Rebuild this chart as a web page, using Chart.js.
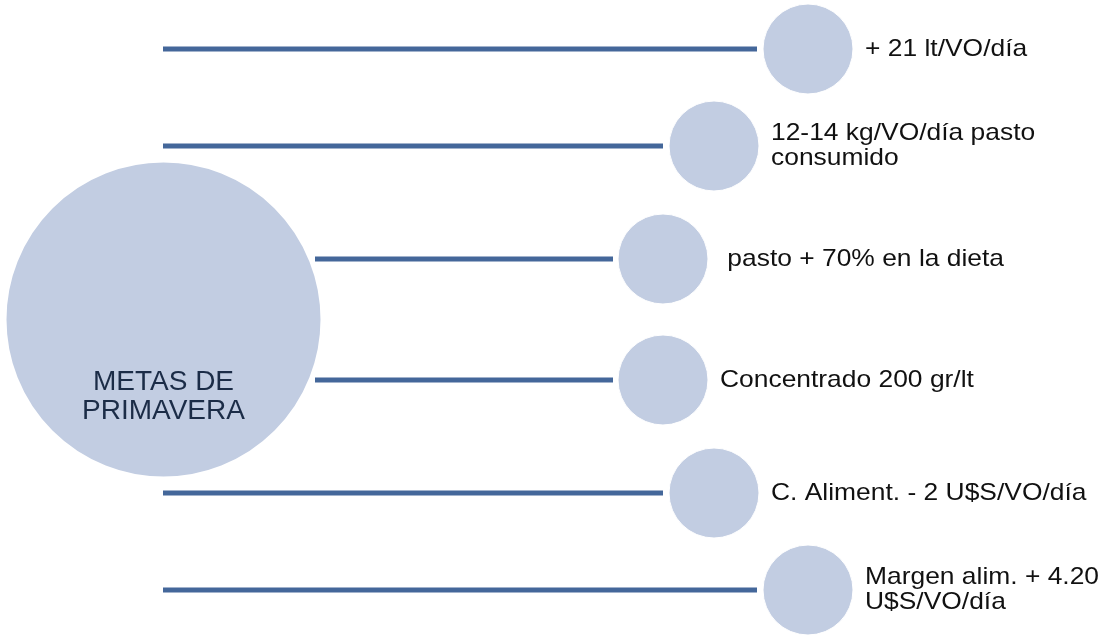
<!DOCTYPE html>
<html>
<head>
<meta charset="utf-8">
<script src="https://cdn.jsdelivr.net/npm/chart.js@4/dist/chart.umd.min.js"></script>
<style>
  html,body{margin:0;padding:0;background:#fff;}
  #wrap{width:1100px;height:635px;position:relative;}
</style>
</head>
<body>
<div id="wrap"><canvas id="chart"></canvas></div>
<script>
// Metas de primavera - diagrama radial
const hubLabel = ['METAS DE', 'PRIMAVERA'];
const hubX = [163.5];
const hubY = [319.5];
const hubR = [158];

const nodeLabels = [
  ['+ 21 lt/VO/día'],
  ['12-14 kg/VO/día pasto', 'consumido'],
  [' pasto + 70% en la dieta'],
  ['Concentrado 200 gr/lt'],
  ['C. Aliment. - 2 U$S/VO/día'],
  ['Margen alim. + 4.20', 'U$S/VO/día']
];
const nodeX = [808, 714, 663, 663, 714, 808];
const nodeY = [49, 146, 259, 380, 493, 590];
const nodeR = [45, 45, 45, 45, 45, 45];
const lineStartX = [163, 163, 315, 315, 163, 163];
const lineEndX = [757, 663, 613, 613, 663, 757];

const circleFill = '#C2CDE2';
const lineColor = '#44679A';

const lineSets = nodeY.map((y,i)=>({
  type:'line',
  data:[{x:lineStartX[i], y}, {x:lineEndX[i], y}],
  borderColor: lineColor,
  borderWidth: 5,
  borderCapStyle: 'butt',
  pointRadius: 0,
  fill: false,
  order: 2,
  clip: false
}));

const labelPlugin = {
  id:'labels',
  afterDatasetsDraw(chart){
    const ctx = chart.ctx;
    const xs = chart.scales.x, ys = chart.scales.y;
    ctx.save();
    // hub text
    ctx.fillStyle = '#1B2C47';
    ctx.font = '28px "Liberation Sans", Arial, sans-serif';
    ctx.textAlign = 'center';
    ctx.textBaseline = 'alphabetic';
    const hx = xs.getPixelForValue(hubX[0]);
    const hy = ys.getPixelForValue(hubY[0]);
    ctx.fillText(hubLabel[0], hx, hy + 70);
    ctx.fillText(hubLabel[1], hx, hy + 99);
    // node texts
    ctx.fillStyle = '#111';
    ctx.font = '24px "Liberation Sans", Arial, sans-serif';
    ctx.textAlign = 'left';
    ctx.textBaseline = 'middle';
    nodeLabels.forEach((lines,i)=>{
      const x = xs.getPixelForValue(nodeX[i]) + nodeR[i] + 12;
      const y = ys.getPixelForValue(nodeY[i]);
      const lh = 25;
      const top = y - (lines.length-1)*lh/2;
      lines.forEach((t,j)=>{
        ctx.save();
        ctx.translate(x, top + j*lh);
        ctx.scale(1.1, 1);
        ctx.fillText(t, 0, 0);
        ctx.restore();
      });
    });
    ctx.restore();
  }
};

new Chart(document.getElementById('chart'), {
  type:'bubble',
  data:{
    datasets:[
      ...lineSets,
      {
        data: hubX.map((x,i)=>({x, y:hubY[i], r:hubR[i]})),
        backgroundColor: circleFill,
        borderColor: '#ffffff',
        borderWidth: 2,
        order: 1,
        clip: false
      },
      {
        data: nodeX.map((x,i)=>({x, y:nodeY[i], r:nodeR[i]})),
        backgroundColor: circleFill,
        borderColor: '#ffffff',
        borderWidth: 1,
        order: 1,
        clip: false
      }
    ]
  },
  options:{
    responsive:true,
    maintainAspectRatio:false,
    animation:false,
    layout:{padding:0, autoPadding:false},
    plugins:{legend:{display:false},tooltip:{enabled:false}},
    events:[],
    scales:{
      x:{type:'linear',min:0,max:1100,display:false},
      y:{type:'linear',min:0,max:635,reverse:true,display:false}
    }
  },
  plugins:[labelPlugin]
});
</script>
</body>
</html>
